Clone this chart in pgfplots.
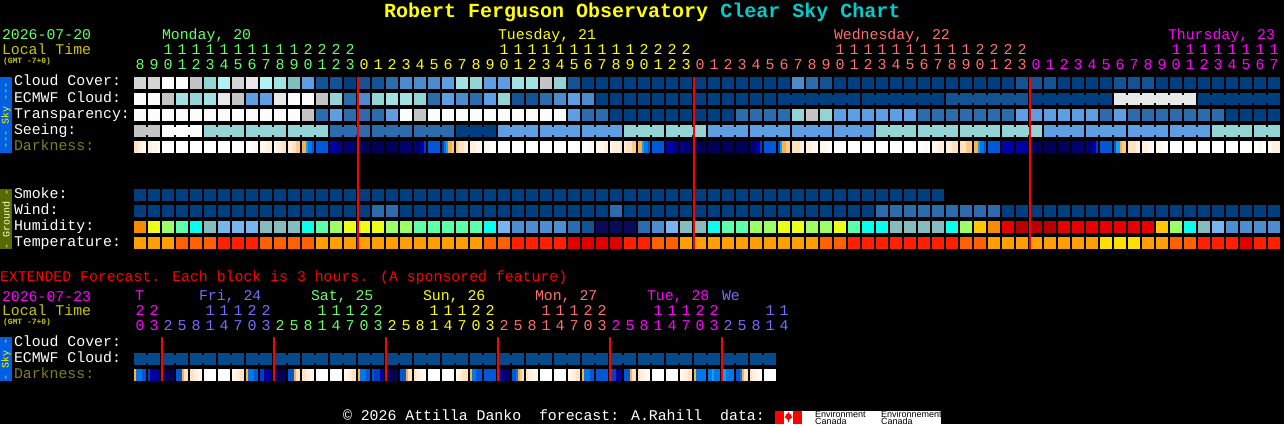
\documentclass[border=0pt]{standalone}
\usepackage{fontspec}
\setmainfont{Liberation Mono}
\newfontfamily\envfont{Liberation Sans}
\usepackage{pgfplots}
\usepackage{pgfplotstable}
\pgfplotsset{compat=1.18}

% one pt in the file = one pixel of the chart
\definecolor{skybar}{RGB}{0,96,224}
\definecolor{groundbar}{RGB}{85,107,0}
\definecolor{olive}{RGB}{128,128,32}
\definecolor{loc}{RGB}{200,200,0}
\definecolor{monc}{RGB}{102,255,102}
\definecolor{tuec}{RGB}{255,255,0}
\definecolor{wedc}{RGB}{255,112,112}
\definecolor{thuc}{RGB}{255,0,255}
\definecolor{frib}{RGB}{112,112,255}
\definecolor{titlecy}{RGB}{0,204,204}
\definecolor{midline}{RGB}{255,0,0}

% block colours, by the letter used in the tables
\definecolor{celld}{RGB}{0,63,127}
\definecolor{cellE}{RGB}{6,74,140}
\definecolor{celle}{RGB}{19,83,147}
\definecolor{cellm}{RGB}{44,108,172}
\definecolor{celln}{RGB}{76,140,204}
\definecolor{celll}{RGB}{94,158,226}
\definecolor{cells}{RGB}{127,191,191}
\definecolor{cellt}{RGB}{148,212,212}
\definecolor{cellv}{RGB}{162,226,226}
\definecolor{cellu}{RGB}{176,242,242}
\definecolor{cellg}{RGB}{196,196,196}
\definecolor{celli}{RGB}{212,212,212}
\definecolor{cellh}{RGB}{232,232,232}
\definecolor{cellw}{RGB}{252,252,252}
\definecolor{cellO}{RGB}{251,138,0}
\definecolor{cellY}{RGB}{236,255,24}
\definecolor{cellL}{RGB}{156,255,102}
\definecolor{cellM}{RGB}{92,255,170}
\definecolor{cellC}{RGB}{8,255,238}
\definecolor{cellT}{RGB}{132,188,192}
\definecolor{cellB}{RGB}{120,180,240}
\definecolor{cellN}{RGB}{78,142,208}
\definecolor{cellV}{RGB}{10,10,90}
\definecolor{cellR}{RGB}{230,0,0}
\definecolor{cellK}{RGB}{184,0,0}
\definecolor{cellG}{RGB}{255,200,0}
\definecolor{cella}{RGB}{255,160,0}
\definecolor{cellb}{RGB}{255,96,0}
\definecolor{cellc}{RGB}{255,32,0}
\definecolor{cellD}{RGB}{224,0,0}
\definecolor{celly}{RGB}{255,224,0}

\pgfdeclareplotmark{strip}{%
  \pgfpathrectangle{\pgfpoint{-1.15pt}{-6pt}}{\pgfpoint{2.3pt}{12pt}}%
  \pgfusepathqfill}
\pgfdeclareplotmark{cell}{%
  \pgfpathrectangle{\pgfpoint{-\pgfplotmarksize}{-\pgfplotmarksize}}{\pgfpoint{2\pgfplotmarksize}{2\pgfplotmarksize}}%
  \pgfusepathqfill}

\pgfplotsset{
  colormap={dark}{
    rgb255=(255,255,255) rgb255=(255,248,238) rgb255=(255,239,220)
    rgb255=(255,226,191) rgb255=(255,202,134) rgb255=(255,176,64)
    rgb255=(16,160,240)  rgb255=(0,120,232)   rgb255=(0,88,216)
    rgb255=(0,64,192)    rgb255=(0,0,168)     rgb255=(0,0,144)
    rgb255=(0,0,112)     rgb255=(0,0,88)},
  pixelaxis/.style={
    at={(0,0)}, anchor=south west,
    width=1284pt, height=424pt, scale only axis,
    xmin=0, xmax=1284, ymin=0, ymax=424, y dir=reverse,
    hide axis, clip=false},
  blocks/.style={scatter, only marks, mark=cell, mark size=#1, point meta=explicit symbolic,
    scatter/@pre marker code/.code={%
      \edef\cellname{cell\pgfplotspointmeta}%
      \scope[fill=\cellname]},
    scatter/@post marker code/.code={\endscope}},
  darkstrip/.style={scatter, only marks, mark=strip, scatter src=explicit,
    scatter/use mapped color={draw=none,fill=mapped color}},
  midnight/.style={midline, line width=2pt}
}

% main chart, one row per hour block
\pgfplotstableread{
i cloud ecmwf transp seeing wind humid temp
0 i w w g d O a
1 i w w g d Y a
2 w g w w d L a
3 w v w w d M b
4 g t w w d C b
5 t v w t d T b
6 u h w t d B c
7 i g w t d B c
8 h l w t d B c
9 u l w t d T b
10 v h w t d T b
11 s w w t d T b
12 l w g t d C b
13 e g m t d M a
14 e t l m d L a
15 d m m m d Y a
16 e n m m d Y a
17 e t m m m Y a
18 m v l m m L a
19 n v w m d L a
20 n t g m d M a
21 n m w m d M a
22 l l w m d M a
23 v n w d d M a
24 t m w d d M a
25 l l w d d C b
26 l t w l d B b
27 v e w l d N c
28 v e w l d N c
29 g m w l d N c
30 t n w l d N c
31 e l l l d m D
32 d n m l d e D
33 d d m l d V D
34 d d d l m V D
35 d d d t d V c
36 d d d t d m c
37 d d d t d N b
38 d d d t d B b
39 d d d t d T a
40 d d d t d T a
41 d d d l d C a
42 d d d l d M a
43 d d m l d M a
44 d d m l d L a
45 d d m l d L a
46 d d m l d Y a
47 n d t l d Y a
48 m d g l d L a
49 e d t l d L b
50 d d l l d Y b
51 d d l l d M c
52 d d l l d C c
53 d d l t m C c
54 d d l t m T c
55 d d l t m T c
56 d d m t m T c
57 d d m t m T c
58 d e m t m C c
59 d e m t m L b
60 d e m t m G b
61 d e m t m O a
62 d e m t d R a
63 e e l t d K a
64 e d l t d K a
65 e d l l d K a
66 d d l l d R a
67 d d l l d R a
68 d d l l d R a
69 d d m l d R y
70 e h l l d R y
71 e h m l d R y
72 e h m l d R a
73 d h m l d G a
74 d h m l d L b
75 d h m l d C b
76 d d m l d T c
77 d d m t d B c
78 d d d t d N c
79 d d d t d N D
80 d d d t d N c
81 d d d t d N c
}\mainblocks

% smoke forecast stops earlier than the rest
\pgfplotstableread[row sep=\\]{
i smoke\\
0 d\\ 1 d\\ 2 d\\ 3 d\\ 4 d\\ 5 d\\ 6 d\\ 7 d\\ 8 d\\ 9 d\\
10 d\\ 11 d\\ 12 d\\ 13 d\\ 14 d\\ 15 d\\ 16 d\\ 17 d\\ 18 d\\ 19 d\\
20 d\\ 21 d\\ 22 d\\ 23 d\\ 24 d\\ 25 d\\ 26 d\\ 27 d\\ 28 d\\ 29 d\\
30 d\\ 31 d\\ 32 d\\ 33 d\\ 34 d\\ 35 d\\ 36 d\\ 37 d\\ 38 d\\ 39 d\\
40 d\\ 41 d\\ 42 d\\ 43 d\\ 44 d\\ 45 d\\ 46 d\\ 47 d\\ 48 d\\ 49 d\\
50 d\\ 51 d\\ 52 d\\ 53 d\\ 54 d\\ 55 d\\ 56 d\\ 57 d\\
}\smokeblocks

% darkness, six strips across each block, colormap index
\pgfplotstableread{
i s0 s1 s2 s3 s4 s5
0 3 3 2 2 1 1
1 2 2 1 1 1 0
2 0 0 0 0 0 0
3 0 0 0 0 0 0
4 0 0 0 0 0 0
5 0 0 0 0 0 0
6 0 0 0 0 0 0
7 0 0 0 0 0 0
8 0 0 0 1 1 1
9 1 1 1 2 2 2
10 1 2 2 2 3 3
11 2 2 3 3 4 4
12 5 5 6 7 7 8
13 8 8 8 8 8 8
14 10 10 10 11 11 11
15 12 12 12 12 12 12
16 13 13 13 13 13 13
17 13 13 13 13 13 13
18 13 13 13 13 13 13
19 12 12 12 12 12 12
20 12 12 12 11 10 9
21 8 8 8 8 8 8
22 9 7 6 5 5 4
23 4 3 3 3 2 2
24 2 2 2 1 1 1
25 1 1 1 0 0 0
26 0 0 0 0 0 0
27 0 0 0 0 0 0
28 0 0 0 0 0 0
29 0 0 0 0 0 0
30 0 0 0 0 0 0
31 0 0 0 0 0 0
32 0 0 0 1 1 1
33 1 1 1 1 2 2
34 1 2 2 2 2 3
35 2 3 3 3 4 4
36 5 5 6 7 7 8
37 8 8 8 8 8 8
38 10 10 10 10 11 11
39 11 11 12 12 12 12
40 13 13 13 13 13 13
41 13 13 13 13 13 13
42 13 13 13 13 13 13
43 13 13 13 13 13 13
44 12 12 12 11 10 9
45 8 8 8 8 8 8
46 9 6 5 5 4 4
47 3 3 3 3 2 2
48 2 2 2 1 1 1
49 1 1 1 1 0 0
50 0 0 0 0 0 0
51 0 0 0 0 0 0
52 0 0 0 0 0 0
53 0 0 0 0 0 0
54 0 0 0 0 0 0
55 0 0 0 0 0 0
56 0 0 0 1 1 0
57 1 1 1 2 2 2
58 2 2 2 3 3 3
59 3 3 3 4 4 4
60 5 5 6 7 7 8
61 8 8 8 8 8 8
62 10 10 10 10 10 10
63 10 10 10 10 10 10
64 13 13 13 13 13 13
65 13 13 13 13 13 13
66 13 13 13 13 13 13
67 12 12 12 12 12 12
68 12 12 12 11 10 9
69 8 8 8 8 8 8
70 8 6 6 5 4 4
71 3 3 3 3 2 2
72 2 2 2 1 1 1
73 1 1 1 1 0 0
74 0 0 0 0 0 0
75 0 0 0 0 0 0
76 0 0 0 0 0 0
77 0 0 0 0 0 0
78 0 0 0 0 0 0
79 0 0 0 0 0 0
80 0 0 1 1 0 0
81 1 1 2 2 2 2
}\maindark

% extended forecast, 3 hour blocks
\pgfplotstableread{
i ecmwf s0 s1 s2 s3 s4 s5
0 E 5 7 7 7 8 8
1 E 9 10 10 10 11 11
2 E 12 13 13 13 13 12
3 E 8 8 8 5 3 3
4 E 3 3 2 2 1 1
5 E 0 0 0 0 0 0
6 E 0 0 0 0 0 0
7 E 1 1 2 2 3 3
8 E 5 7 7 7 8 8
9 E 9 9 10 10 11 11
10 E 12 12 13 13 13 13
11 E 8 8 8 5 3 3
12 E 3 3 2 2 1 1
13 E 0 0 0 0 0 0
14 E 0 0 0 0 0 0
15 E 1 1 2 2 3 3
16 E 5 7 7 7 8 8
17 E 8 9 9 9 10 10
18 E 11 12 13 13 13 13
19 E 8 8 8 5 3 3
20 E 3 2 2 1 1 0
21 E 0 0 0 0 0 0
22 E 0 0 0 0 0 0
23 E 1 2 2 3 3 3
24 E 5 7 7 8 8 8
25 E 8 8 8 8 8 8
26 E 9 10 11 12 12 12
27 E 8 8 7 5 4 3
28 E 3 2 2 1 1 1
29 E 0 0 0 0 0 0
30 E 0 0 0 0 0 0
31 E 1 1 2 2 3 3
32 E 5 7 7 7 8 8
33 E 8 8 8 8 8 8
34 E 8 9 9 10 10 11
35 E 8 8 8 5 3 3
36 E 3 2 2 1 1 0
37 E 0 0 0 0 0 0
38 E 0 0 0 0 0 0
39 E 1 1 2 2 3 3
40 E 5 7 7 7 7 7
41 E 7 7 6 7 7 7
42 E 6 6 7 7 7 7
43 E 8 8 7 5 3 3
44 E 3 2 2 1 1 0
45 E 0 0 0 0 0 0
}\extblocks

% hour digits: first block, colour, baseline, digits
\newcommand\digits[4]{%
  \foreach \d [count=\k from #1] in {#4}
    \node[dig,text=#2] at ({140+14*\k},#3) {\d};}

\begin{document}
\begin{tikzpicture}
\useasboundingbox (0,0) rectangle (1284pt,424pt);
\fill[black] (0,0) rectangle (1284pt,424pt);

\begin{axis}[pixelaxis, colormap name=dark, point meta min=0, point meta max=13]
% sky and ground rows
\addplot[blocks=6pt] table[x expr=140+14*\thisrow{i}, y expr=83, meta=cloud] {\mainblocks};
\addplot[blocks=6pt] table[x expr=140+14*\thisrow{i}, y expr=99, meta=ecmwf] {\mainblocks};
\addplot[blocks=6pt] table[x expr=140+14*\thisrow{i}, y expr=115, meta=transp] {\mainblocks};
\addplot[blocks=6pt] table[x expr=140+14*\thisrow{i}, y expr=131, meta=seeing] {\mainblocks};
\addplot[blocks=6pt] table[x expr=140+14*\thisrow{i}, y expr=195, meta=smoke] {\smokeblocks};
\addplot[blocks=6pt] table[x expr=140+14*\thisrow{i}, y expr=211, meta=wind] {\mainblocks};
\addplot[blocks=6pt] table[x expr=140+14*\thisrow{i}, y expr=227, meta=humid] {\mainblocks};
\addplot[blocks=6pt] table[x expr=140+14*\thisrow{i}, y expr=243, meta=temp] {\mainblocks};
% joins between blocks of one forecast step
\addplot[blocks=4pt, skip coords between index={81}{82}, restrict y to domain=0:424]
  table[x expr=147+14*\thisrow{i}, y expr={mod(\thisrow{i},3)==1 ? -100 : 131}, meta=seeing] {\mainblocks};
\addplot[blocks=4pt, skip coords between index={0}{46}, restrict y to domain=0:424]
  table[x expr=147+14*\thisrow{i}, y expr={mod(\thisrow{i},6)==3 ? -100 : 99}, meta=ecmwf] {\mainblocks};
% darkness
\pgfplotsinvokeforeach{0,...,5}{
  \addplot[darkstrip] table[x expr=135+14*\thisrow{i}+2*#1, y expr=147, meta=s#1] {\maindark};
  \addplot[darkstrip] table[x expr=135+14*\thisrow{i}+2*#1, y expr=375, meta=s#1] {\extblocks};
}
% extended ecmwf
\addplot[blocks=6pt] table[x expr=140+14*\thisrow{i}, y expr=359, meta=ecmwf] {\extblocks};
\addplot[blocks=4pt, restrict y to domain=0:424]
  table[x expr=147+14*\thisrow{i}, y expr={mod(\thisrow{i},2)==1 ? -100 : 359}, meta=ecmwf] {\extblocks};
\end{axis}

% midnight lines, second axis so they lie over the blocks
\begin{axis}[pixelaxis]
\addplot[midnight] coordinates {(358,77) (358,249)};
\addplot[midnight] coordinates {(694,77) (694,249)};
\addplot[midnight] coordinates {(1030,77) (1030,249)};
\addplot[midnight] coordinates {(162,337) (162,381)};
\addplot[midnight] coordinates {(274,337) (274,381)};
\addplot[midnight] coordinates {(386,337) (386,381)};
\addplot[midnight] coordinates {(498,337) (498,381)};
\addplot[midnight] coordinates {(610,337) (610,381)};
\addplot[midnight] coordinates {(722,337) (722,381)};
\end{axis}

\begin{scope}[x=1pt, y=-1pt, shift={(0pt,424pt)},
  txt/.style={anchor=base west, inner sep=0pt, outer sep=0pt, font=\fontsize{14.85}{15}\selectfont},
  dig/.style={anchor=base, inner sep=0pt, outer sep=0pt, font=\fontsize{15}{15}\selectfont},
  small/.style={anchor=base west, inner sep=0pt, outer sep=0pt, font=\fontsize{8}{8}\selectfont\bfseries, text=loc},
  side/.style={anchor=center, inner sep=0pt, rotate=90, font=\fontsize{10}{10}\selectfont}]

\node[anchor=base west, inner sep=0pt, font=\fontsize{20}{20}\selectfont\bfseries, text=tuec] at (384,18)
  {Robert Ferguson Observatory \textcolor{titlecy}{Clear Sky Chart}};

% header
\node[txt,text=monc] at (2,40) {2026-07-20};
\node[txt,text=loc] at (2,55) {Local Time};
\node[small] at (3,64) {(GMT -7+0)};
\node[txt,text=monc] at (162,40) {Monday, 20};
\node[txt,text=tuec] at (498,40) {Tuesday, 21};
\node[txt,text=wedc] at (834,40) {Wednesday, 22};
\node[txt,text=thuc] at (1168,40) {Thursday, 23};

\digits{2}{monc}{55}{1,1,1,1,1,1,1,1,1,1,2,2,2,2}
\digits{26}{tuec}{55}{1,1,1,1,1,1,1,1,1,1,2,2,2,2}
\digits{50}{wedc}{55}{1,1,1,1,1,1,1,1,1,1,2,2,2,2}
\digits{74}{thuc}{55}{1,1,1,1,1,1,1,1}
\digits{0}{monc}{70}{8,9,0,1,2,3,4,5,6,7,8,9,0,1,2,3}
\digits{16}{tuec}{70}{0,1,2,3,4,5,6,7,8,9,0,1,2,3,4,5,6,7,8,9,0,1,2,3}
\digits{40}{wedc}{70}{0,1,2,3,4,5,6,7,8,9,0,1,2,3,4,5,6,7,8,9,0,1,2,3}
\digits{64}{thuc}{70}{0,1,2,3,4,5,6,7,8,9,0,1,2,3,4,5,6,7}

% row names
\node[txt,text=white] at (14,86) {Cloud Cover:};
\node[txt,text=white] at (14,102) {ECMWF Cloud:};
\node[txt,text=white] at (14,118) {Transparency:};
\node[txt,text=white] at (14,134) {Seeing:};
\node[txt,text=olive] at (14,150) {Darkness:};
\node[txt,text=white] at (14,198) {Smoke:};
\node[txt,text=white] at (14,214) {Wind:};
\node[txt,text=white] at (14,230) {Humidity:};
\node[txt,text=white] at (14,246) {Temperature:};

% side bars
\fill[skybar] (0,77) rectangle (12,153);
\node[side,text=tuec] at (6,115) {-{}-{}- Sky -{}-{}-};
\fill[groundbar] (0,189) rectangle (12,249);
\node[side,text=white!85!yellow] at (6,219) {- Ground -};
\fill[skybar] (0,337) rectangle (12,381);
\node[side,text=tuec] at (6,359) {- Sky -};

% extended header
\node[txt,text=midline] at (0,281) {EXTENDED Forecast. Each block is 3 hours. (A sponsored feature)};
\node[txt,text=thuc] at (2,301) {2026-07-23};
\node[txt,text=loc] at (2,315) {Local Time};
\node[small] at (3,324) {(GMT -7+0)};
\node[txt,text=thuc] at (135,300) {T};
\node[txt,text=frib] at (199,300) {Fri, 24};
\node[txt,text=monc] at (311,300) {Sat, 25};
\node[txt,text=tuec] at (423,300) {Sun, 26};
\node[txt,text=wedc] at (535,300) {Mon, 27};
\node[txt,text=thuc] at (647,300) {Tue, 28};
\node[txt,text=frib] at (722,300) {We};

\digits{0}{thuc}{315}{2,2}
\digits{5}{frib}{315}{1,1,1,2,2}
\digits{13}{monc}{315}{1,1,1,2,2}
\digits{21}{tuec}{315}{1,1,1,2,2}
\digits{29}{wedc}{315}{1,1,1,2,2}
\digits{37}{thuc}{315}{1,1,1,2,2}
\digits{45}{frib}{315}{1,1}
\digits{0}{thuc}{330}{0,3}
\digits{2}{frib}{330}{2,5,8,1,4,7,0,3}
\digits{10}{monc}{330}{2,5,8,1,4,7,0,3}
\digits{18}{tuec}{330}{2,5,8,1,4,7,0,3}
\digits{26}{wedc}{330}{2,5,8,1,4,7,0,3}
\digits{34}{thuc}{330}{2,5,8,1,4,7,0,3}
\digits{42}{frib}{330}{2,5,8,1,4}

\node[txt,text=white] at (14,346) {Cloud Cover:};
\node[txt,text=white] at (14,362) {ECMWF Cloud:};
\node[txt,text=olive] at (14,378) {Darkness:};

% footer
\node[txt,text=white] at (343,420) {© 2026 Attilla Danko\ \ forecast: A.Rahill\ \ data:};
\fill[white] (775,411) rectangle (941,424);
\fill[midline] (775,411) rectangle (784,424);
\fill[midline] (793,411) rectangle (802,424);
\fill[midline] (788.5,412) -- (790,414.5) -- (791.5,414) -- (791,416) -- (792.5,417) -- (789,420) -- (789,422) -- (788,422) -- (788,420) -- (784.5,417) -- (786,416) -- (785.5,414) -- (787,414.5) -- cycle;
\node[anchor=base west, inner sep=0pt, font=\envfont\fontsize{9}{9}\selectfont, text=black] at (815,417) {Environment};
\node[anchor=base west, inner sep=0pt, font=\envfont\fontsize{9}{9}\selectfont, text=black] at (815,424) {Canada};
\node[anchor=base west, inner sep=0pt, font=\envfont\fontsize{9}{9}\selectfont, text=black] at (881,417) {Environnement};
\node[anchor=base west, inner sep=0pt, font=\envfont\fontsize{9}{9}\selectfont, text=black] at (881,424) {Canada};
\end{scope}
\end{tikzpicture}
\end{document}
